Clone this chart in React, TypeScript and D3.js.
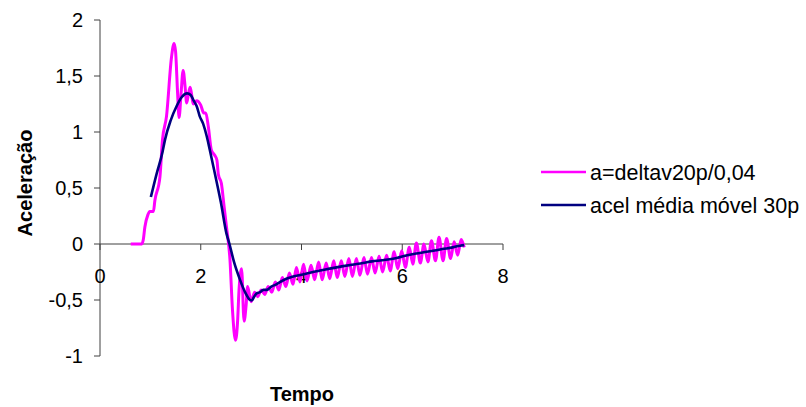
import React from "react";
import * as d3 from "d3";

// Time values (s) and acceleration for the raw series a = deltav20p / 0,04
const rawTime = [
  0.61, 0.83, 0.86, 0.89, 0.95, 0.99, 1.06, 1.09, 1.19, 1.24, 1.32, 1.42, 1.47, 1.5, 1.54, 1.57,
  1.61, 1.65, 1.69, 1.72, 1.76, 1.79, 1.82, 1.85, 1.92, 2.0, 2.06, 2.1, 2.15, 2.21, 2.28, 2.32,
  2.35, 2.41, 2.46, 2.51, 2.58, 2.63, 2.69, 2.73, 2.76, 2.81, 2.86, 2.9, 2.93, 3.0,
  3.07, 3.13, 3.2, 3.27, 3.34, 3.41, 3.48, 3.55, 3.62, 3.69, 3.76, 3.83, 3.9, 3.97,
  4.04, 4.11, 4.19, 4.26, 4.34, 4.41, 4.49, 4.56, 4.64, 4.71, 4.79, 4.86, 4.94, 5.01,
  5.09, 5.16, 5.24, 5.31, 5.39, 5.46, 5.54, 5.61, 5.69, 5.76, 5.84, 5.91, 5.99, 6.06,
  6.14, 6.21, 6.28, 6.36, 6.43, 6.51, 6.58, 6.66, 6.73, 6.81, 6.88, 6.96, 7.03, 7.1,
  7.17, 7.23,
];
const rawAccel = [
  0, 0, 0.04, 0.15, 0.26, 0.29, 0.29, 0.39, 0.6, 0.93, 1.14, 1.67, 1.79, 1.72, 1.35, 1.13,
  1.35, 1.55, 1.4, 1.26, 1.35, 1.4, 1.33, 1.25, 1.28, 1.24, 1.17, 1.17, 1.05, 0.84, 0.79, 0.75,
  0.62, 0.54, 0.35, 0.155, -0.14, -0.59, -0.86, -0.7, -0.41, -0.22, -0.69, -0.55, -0.38, -0.515,
  -0.43, -0.47, -0.41, -0.45, -0.38, -0.43, -0.34, -0.41, -0.3, -0.38, -0.26, -0.36, -0.21, -0.34,
  -0.18, -0.33, -0.19, -0.32, -0.16, -0.32, -0.17, -0.31, -0.15, -0.3, -0.15, -0.29, -0.13, -0.29,
  -0.13, -0.28, -0.12, -0.27, -0.12, -0.26, -0.11, -0.25, -0.1, -0.24, -0.07, -0.22, -0.06, -0.21,
  -0.03, -0.18, 0.01, -0.17, 0.0, -0.16, 0.03, -0.15, 0.06, -0.15, 0.05, -0.13, 0.02, -0.1,
  0.04, -0.03,
];

// Moving average over 30 points
const avgTime = [
  1.01, 1.12, 1.24, 1.29, 1.4, 1.52, 1.62, 1.73, 1.8, 1.86, 1.92, 1.98, 2.05, 2.12, 2.18, 2.28,
  2.4, 2.51, 2.57, 2.66, 2.78, 2.88, 2.98, 3.01, 3.06, 3.11, 3.18, 3.24, 3.31, 3.4, 3.5, 3.57,
  3.7, 3.8, 3.9, 4.0, 4.23, 4.4, 4.56, 4.8, 5.0, 5.22, 5.4, 5.6, 5.89, 6.1, 6.35, 6.55, 6.8,
  7.0, 7.15, 7.23,
];
const avgAccel = [
  0.42, 0.62, 0.82, 0.93, 1.1, 1.23, 1.31, 1.345, 1.33, 1.28, 1.23, 1.14, 1.07, 0.96, 0.84, 0.63,
  0.37, 0.095, 0.0, -0.16, -0.32, -0.43, -0.5, -0.505, -0.47, -0.44, -0.43, -0.41, -0.41, -0.38,
  -0.36, -0.34, -0.31, -0.295, -0.283, -0.275, -0.25, -0.235, -0.22, -0.2, -0.185, -0.17, -0.155,
  -0.145, -0.125, -0.1, -0.08, -0.065, -0.045, -0.03, -0.015, -0.01,
];

const xTicks = [0, 2, 4, 6, 8];
const yTicks = [2, 1.5, 1, 0.5, 0, -0.5, -1];

const seriesNames = ["a=deltav20p/0,04", "acel média móvel 30p"];
const seriesColors = ["#FF00FF", "#000080"];

const W = 806;
const H = 407;
const FONT = "'Liberation Sans', Arial, sans-serif";

const fmt = (v: number) => String(v).replace(".", ",");

export default function App() {
  const x = d3.scaleLinear().domain([0, 8]).range([100, 503]);
  const y = d3.scaleLinear().domain([-1, 2]).range([356, 20]);

  const raw = rawTime.map((t, i) => [t, rawAccel[i]] as [number, number]);
  const avg = avgTime.map((t, i) => [t, avgAccel[i]] as [number, number]);

  const line = d3
    .line<[number, number]>()
    .x((d) => x(d[0]))
    .y((d) => y(d[1]))
    .curve(d3.curveMonotoneX);

  const axisColor = "#404040";

  return (
    <svg
      width={W}
      height={H}
      style={{ position: "absolute", left: 0, top: 0, background: "#fff" }}
      fontFamily={FONT}
    >
      {/* y axis */}
      <line x1={x(0)} x2={x(0)} y1={y(2)} y2={y(-1)} stroke={axisColor} strokeWidth={1} />
      {yTicks.map((t) => (
        <g key={"y" + t}>
          <line x1={x(0) - 6} x2={x(0)} y1={y(t)} y2={y(t)} stroke={axisColor} />
          <text x={83} y={y(t)} dy="0.35em" textAnchor="end" fontSize={20} fill="#000">
            {fmt(t)}
          </text>
        </g>
      ))}

      {/* x axis at y = 0 */}
      <line x1={x(0)} x2={x(8)} y1={y(0)} y2={y(0)} stroke={axisColor} strokeWidth={1} />
      {xTicks.map((t) => (
        <g key={"x" + t}>
          <line x1={x(t)} x2={x(t)} y1={y(0)} y2={y(0) + 6} stroke={axisColor} />
          <text x={x(t)} y={283} textAnchor="middle" fontSize={20} fill="#000">
            {fmt(t)}
          </text>
        </g>
      ))}

      {/* series */}
      <path d={line(raw) || ""} fill="none" stroke={seriesColors[0]} strokeWidth={3} strokeLinejoin="round" />
      <path d={line(avg) || ""} fill="none" stroke={seriesColors[1]} strokeWidth={2.6} strokeLinejoin="round" />

      {/* axis titles */}
      <text x={302} y={401} textAnchor="middle" fontSize={20} fontWeight="bold" fill="#000">
        Tempo
      </text>
      <text
        transform={`translate(32,183) rotate(-90)`}
        textAnchor="middle"
        fontSize={20}
        fontWeight="bold"
        fill="#000"
      >
        Aceleração
      </text>

      {/* legend */}
      {seriesNames.map((name, i) => (
        <g key={name} transform={`translate(0,${172 + i * 33})`}>
          <line x1={541} x2={586} y1={0} y2={0} stroke={seriesColors[i]} strokeWidth={2.6} />
          <text x={590} y={0} dy="0.35em" fontSize={21.5} fill="#000">
            {name}
          </text>
        </g>
      ))}
    </svg>
  );
}
